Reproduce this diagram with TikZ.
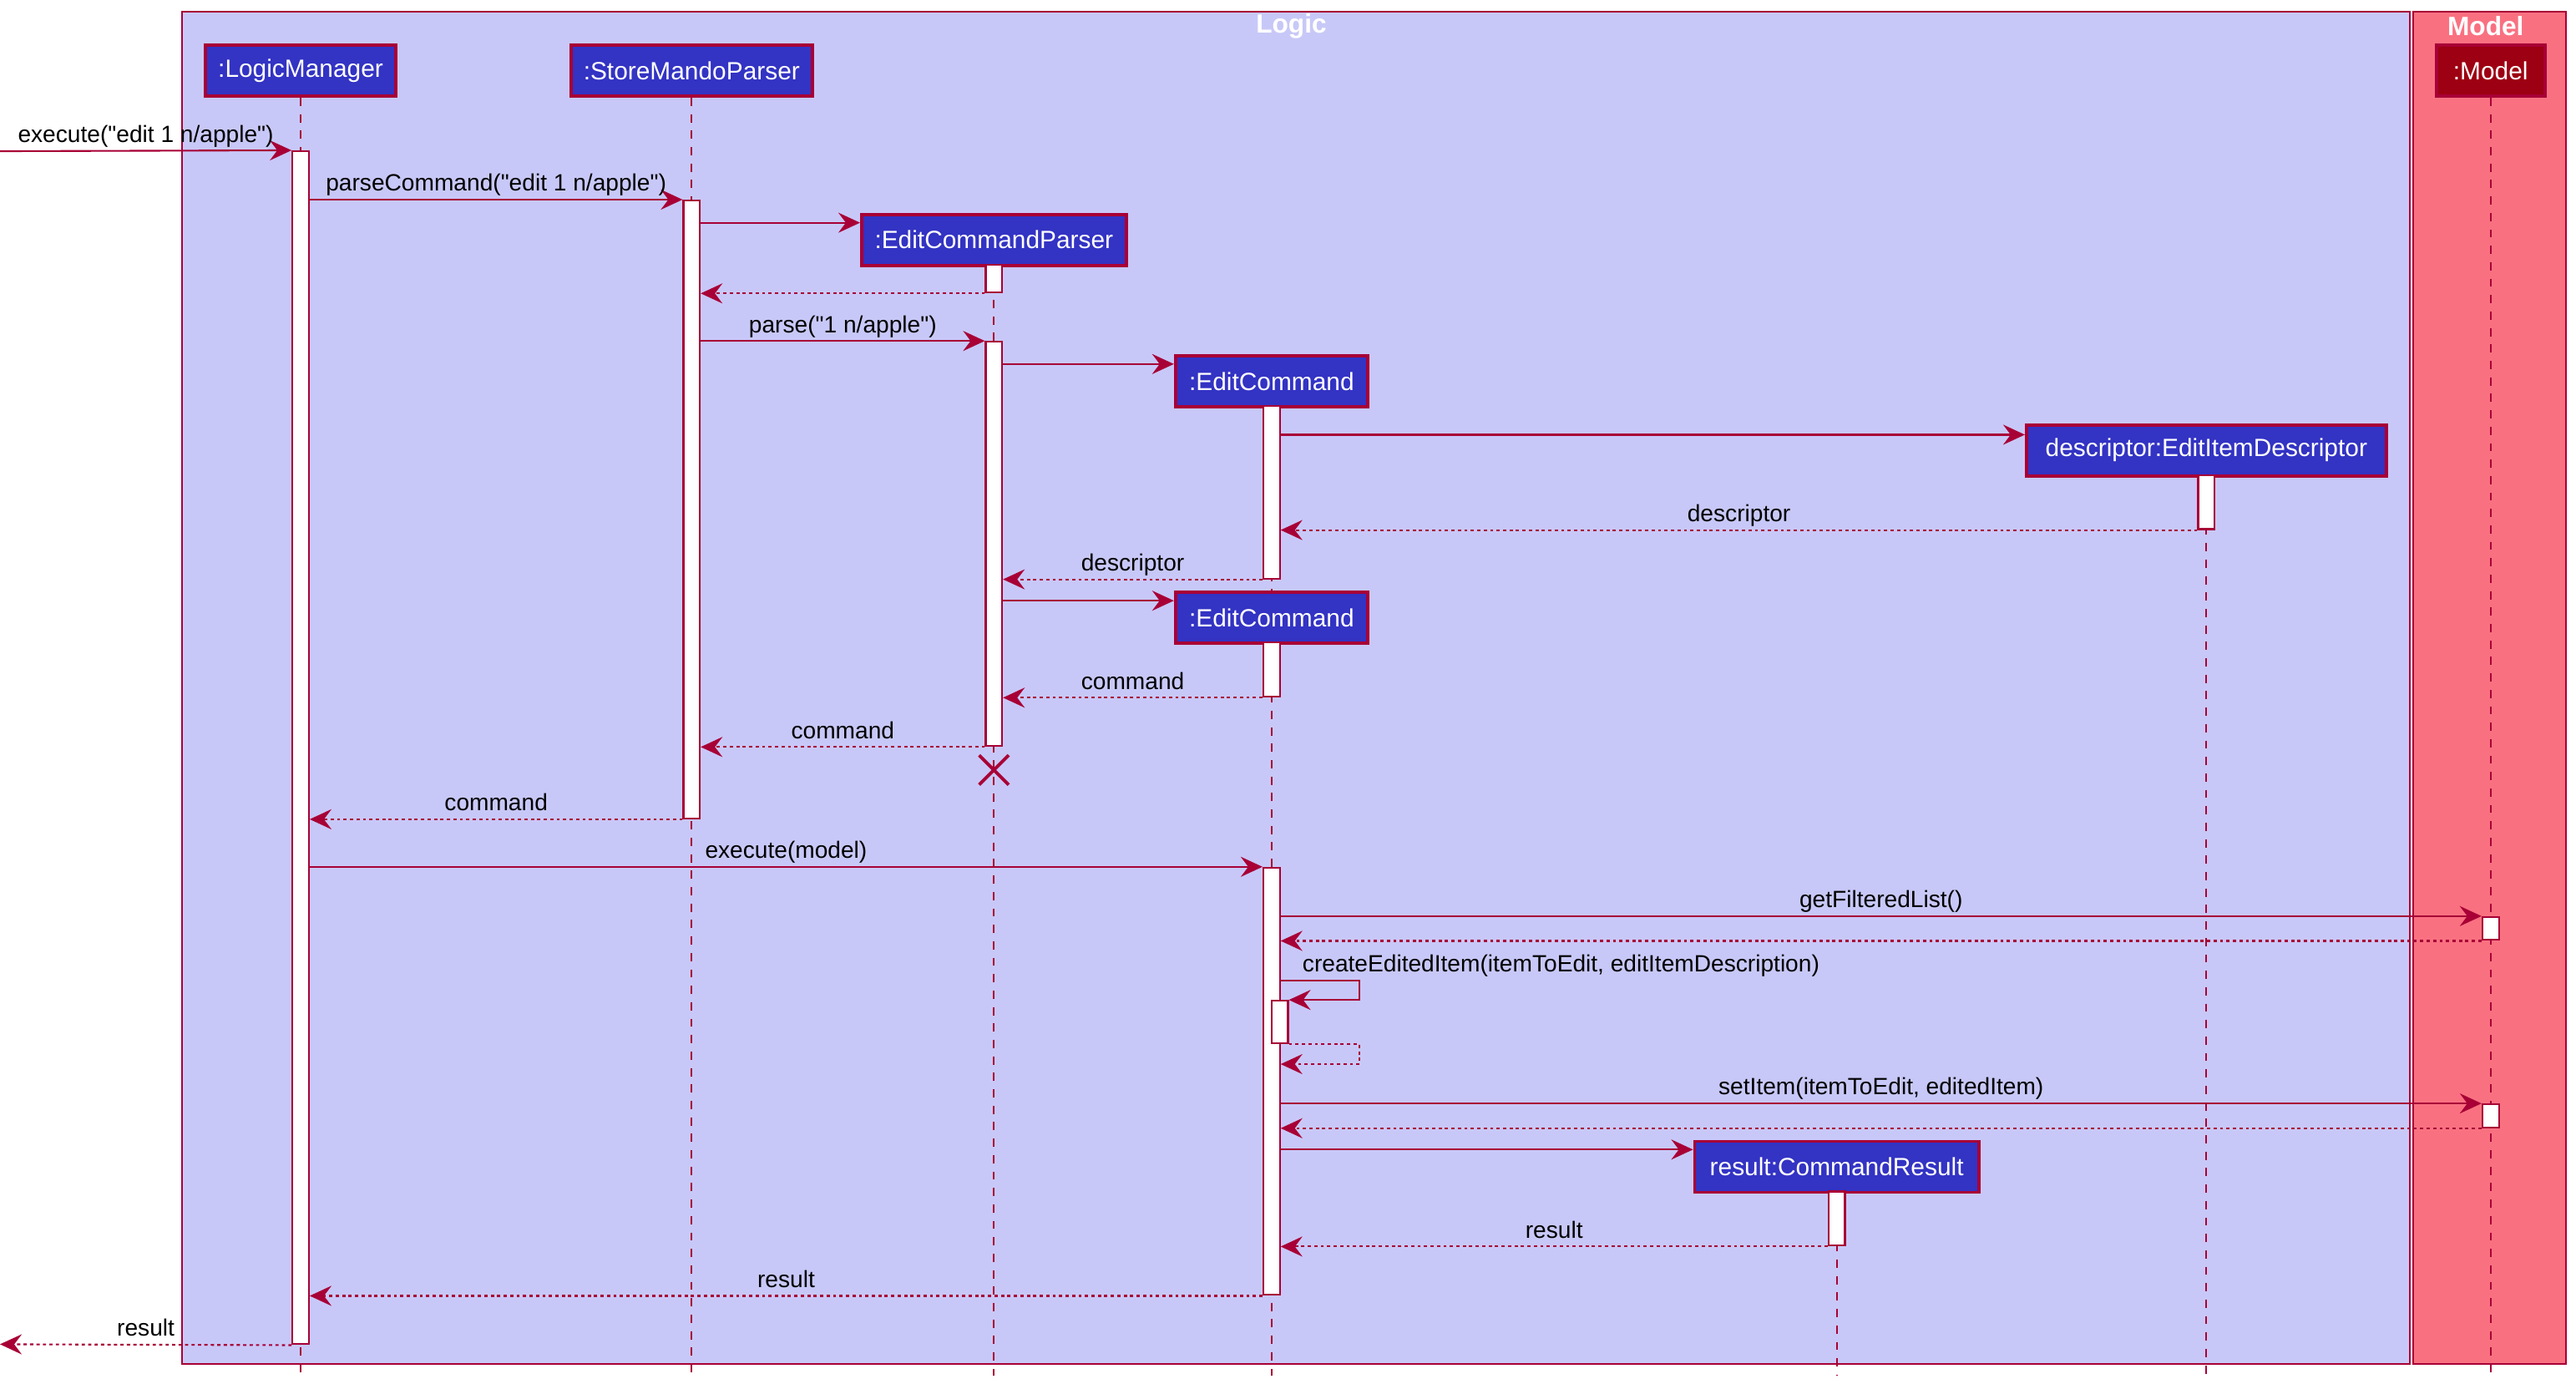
\documentclass[tikz,border=0pt]{standalone}
\usepackage{fontspec}
\setmainfont{Liberation Sans}[Ligatures=TeXOff]
\usetikzlibrary{arrows.meta, positioning}

\definecolor{umlred}{HTML}{A80036}
\definecolor{logicbg}{HTML}{C8C8F8}
\definecolor{modelbg}{HTML}{F97181}
\definecolor{objblue}{HTML}{3333C4}
\definecolor{objred}{HTML}{9D0012}

\begin{document}
\begin{tikzpicture}[x=0.019675cm, y=-0.019675cm, line width=0.6pt, font=\fontsize{8}{9.6}\selectfont]
\tikzstyle{frame}=[draw=umlred, line width=0.6pt]
\tikzstyle{frame title}=[text=white, font=\fontsize{9}{10}\selectfont\bfseries, inner sep=0pt]
\tikzstyle{object}=[rectangle, draw=umlred, fill=objblue, text=white, line width=1.1pt, inner sep=0pt, minimum height=31*\pxlen, font=\fontsize{8.5}{10}\selectfont]
\tikzstyle{model object}=[object, fill=objred]
\tikzstyle{lifeline}=[draw=umlred, line width=0.5pt, dash pattern=on 2.8pt off 2.8pt]
\tikzstyle{activation}=[rectangle, draw=umlred, fill=white, line width=0.6pt, inner sep=0pt, minimum width=10*\pxlen]
\tikzstyle{call}=[draw=umlred, -{Stealth[length=2.6mm, width=2.4mm, inset=0.9mm]}]
\tikzstyle{reply}=[call, dash pattern=on 1.1pt off 1.1pt]
\tikzstyle{destroy}=[draw=umlred, line width=1.1pt]
\tikzstyle{lbl}=[above, inner sep=1pt, text depth=1.6pt, text=black]

% One pixel of the layout grid
\def\pxlen{0.019675cm}

\useasboundingbox (0,0) rectangle (1568,842);
\coordinate (bottom) at (0,837);

% Draw the two package frames
\draw[frame, fill=logicbg] (111,7) rectangle (1467,830);
\draw[frame, fill=modelbg] (1469,7) rectangle (1562,830);
\node[frame title] (logic-title) at (786,16) {Logic};
\node[frame title] (model-title) at (1513,16) {Model};

% Draw the participants
\foreach \name/\x/\y/\w/\label in {LM/183/43/116/{:LogicManager}, SMP/421/43/147/{:StoreMandoParser}, ECP/605/146/161/{:EditCommandParser}, EC1/774/232/117/{:EditCommand}, DESC/1343/274/219/{descriptor:EditItemDescriptor}, EC2/774/376/117/{:EditCommand}, RES/1118/710/173/{result:CommandResult}}
  \node[object, minimum width=\w*\pxlen] (\name) at (\x,\y) {\label};
\node[model object, minimum width=66*\pxlen] (MOD) at (1516,43) {:Model};

% Draw the lifelines down to the bottom
\foreach \name in {LM,SMP,ECP,EC2,DESC,RES,MOD}
  \draw[lifeline] (\name.south) -- (\name.south |- bottom);
\draw[lifeline] (EC1.south) -- (EC2.north);

% Draw the activation bars
\foreach \name/\x/\ya/\yb in {LM-a/183/92/818, SMP-a/421/122/498, ECP-a1/605/161/178, ECP-a2/605/208/454, EC1-a/774/247/352, DESC-a/1343/289/322, EC2-a/774/391/424, EC2-b/774/528/788, EC2-c/779/609/635, MOD-a1/1516/558/572, MOD-a2/1516/672/686, RES-a/1118/725/758}
  \node[activation, minimum height={(\yb-\ya)*\pxlen}] (\name) at (\x,{(\ya+\yb)/2}) {};

% Points where the create arrows meet the new boxes
\foreach \name/\d in {ECP/6, EC1/6, DESC/7, EC2/6, RES/6}
  \coordinate (\name-in) at ([yshift=-\d*\pxlen]\name.north west);

% Parsing the command
\coordinate (in) at (0,92);
\draw[call] (in) -- node[lbl] {execute("edit 1 n/apple")} (LM-a.north west);
\draw[call] (LM-a.east |- SMP-a.north) -- node[lbl] {parseCommand("edit 1 n/apple")} (SMP-a.north west);
\draw[call] (SMP-a.east |- ECP-in) -- (ECP-in);
\draw[reply] (ECP-a1.south west) -- (SMP-a.east |- ECP-a1.south);
\draw[call] (SMP-a.east |- ECP-a2.north) -- node[lbl] {parse("1 n/apple")} (ECP-a2.north west);
\draw[call] (ECP-a2.east |- EC1-in) -- (EC1-in);
\draw[call] (EC1-a.east |- DESC-in) -- (DESC-in);
\draw[reply] (DESC-a.south west) -- node[lbl] {descriptor} (EC1-a.east |- DESC-a.south);
\draw[reply] (EC1-a.south west) -- node[lbl] {descriptor} (ECP-a2.east |- EC1-a.south);
\draw[call] (ECP-a2.east |- EC2-in) -- (EC2-in);
\draw[reply] (EC2-a.south west) -- node[lbl] {command} (ECP-a2.east |- EC2-a.south);
\draw[reply] (ECP-a2.south west) -- node[lbl] {command} (SMP-a.east |- ECP-a2.south);

% The parser is destroyed
\coordinate (ECP-end) at ([yshift=-14*\pxlen]ECP-a2.south);
\draw[destroy] ([shift={(-9,-9)}]ECP-end) -- ([shift={(9,9)}]ECP-end)
               ([shift={(-9,9)}]ECP-end) -- ([shift={(9,-9)}]ECP-end);

\draw[reply] (SMP-a.south west) -- node[lbl] {command} (LM-a.east |- SMP-a.south);

% Executing the command
\draw[call] (LM-a.east |- EC2-b.north) -- node[lbl] {execute(model)} (EC2-b.north west);
\draw[call] (EC2-b.east |- MOD-a1.north) -- node[lbl] {getFilteredList()} (MOD-a1.north west);
\draw[reply] (MOD-a1.south west) -- (EC2-b.east |- MOD-a1.south);

% Self call
\path (EC2-b.east |- EC2-c.north) ++(0,-12) coordinate (self-top);
\path (EC2-b.east |- EC2-c.south) ++(0,12) coordinate (self-back);
\draw[call] (self-top) -- node[lbl, anchor=south west, pos=0, xshift=11*\pxlen] {createEditedItem(itemToEdit, editItemDescription)} ++(48,0) |- (EC2-c.north east);
\draw[reply] (EC2-c.south east) -- ++(43,0) |- (self-back);

\draw[call] (EC2-b.east |- MOD-a2.north) -- node[lbl] {setItem(itemToEdit, editedItem)} (MOD-a2.north west);
\draw[reply] (MOD-a2.south west) -- (EC2-b.east |- MOD-a2.south);
\draw[call] (EC2-b.east |- RES-in) -- (RES-in);
\draw[reply] (RES-a.south west) -- node[lbl] {result} (EC2-b.east |- RES-a.south);
\draw[reply] (EC2-b.south west) -- node[lbl] {result} (LM-a.east |- EC2-b.south);

% Back to the caller
\coordinate (out) at (0,818);
\draw[reply] (LM-a.south west) -- node[lbl] {result} (out);

\end{tikzpicture}
\end{document}
